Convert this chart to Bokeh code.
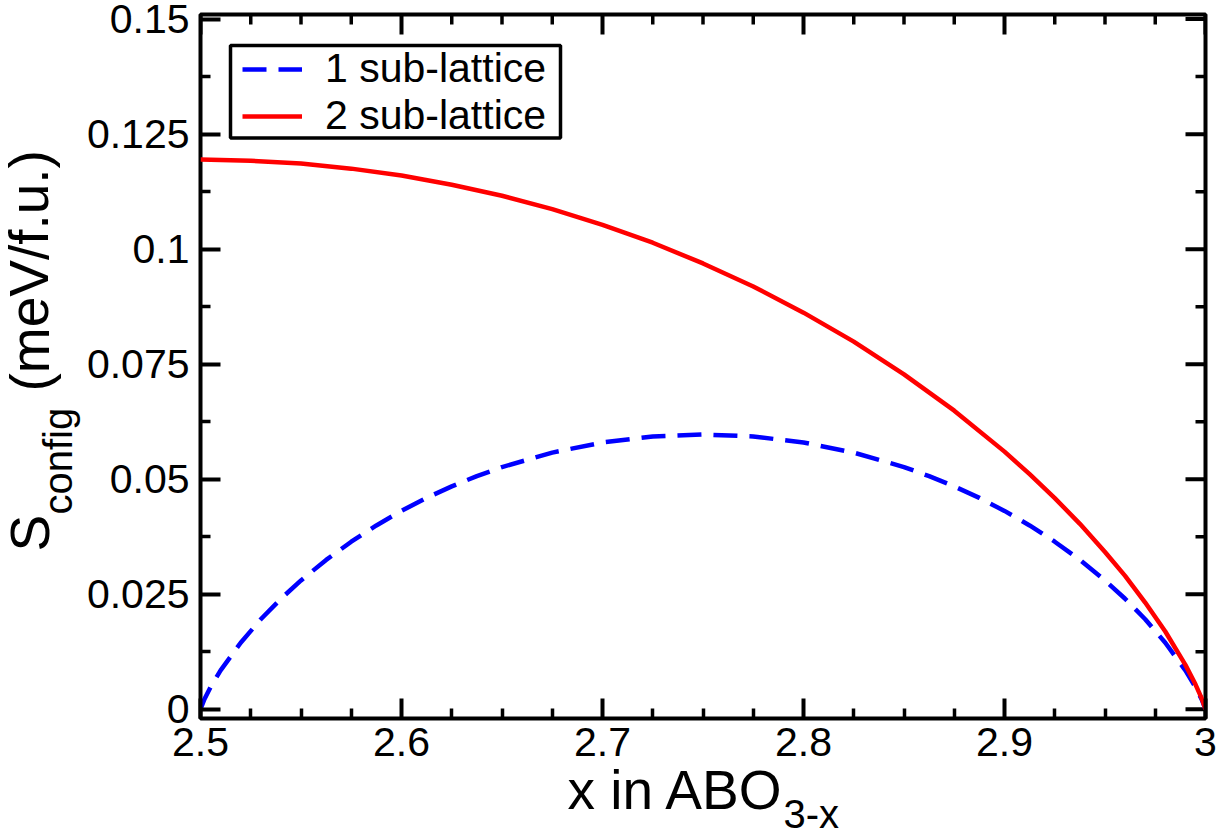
from bokeh.plotting import figure
from bokeh.models import (Range1d, FixedTicker, LinearAxis, Legend, LegendItem,
                          BoxAnnotation, ColumnDataSource)
from bokeh.core.properties import value
from bokeh.embed import file_html
from bokeh.resources import INLINE

# Configurational entropy read along the oxygen content axis
x_one = [2.5, 2.502, 2.505, 2.51, 2.52, 2.53, 2.54, 2.55, 2.5625, 2.575, 2.5875,
         2.6, 2.6125, 2.625, 2.6375, 2.65, 2.675, 2.7, 2.725, 2.75, 2.775, 2.8,
         2.825, 2.85, 2.8625, 2.875, 2.8875, 2.9, 2.9125, 2.925, 2.9375, 2.95,
         2.96, 2.97, 2.98, 2.99, 2.995, 2.998, 3.0]
s_one = [0.0, 0.00225, 0.00483, 0.00845, 0.01447, 0.01956, 0.02402, 0.02801,
         0.03247, 0.03642, 0.03996, 0.04312, 0.04595, 0.04845, 0.05068, 0.05264,
         0.05579, 0.05799, 0.05929, 0.05973, 0.05929, 0.05799, 0.05579, 0.05264,
         0.05068, 0.04845, 0.04595, 0.04312, 0.03996, 0.03642, 0.03247, 0.02801,
         0.02402, 0.01956, 0.01447, 0.00845, 0.00483, 0.00225, 0.0]

x_two = [2.5, 2.525, 2.55, 2.575, 2.6, 2.625, 2.65, 2.675, 2.7, 2.725, 2.75,
         2.775, 2.8, 2.825, 2.85, 2.875, 2.9, 2.9125, 2.925, 2.9375, 2.95, 2.96,
         2.97, 2.98, 2.99, 2.995, 2.998, 3.0]
s_two = [0.1195, 0.1192, 0.1186, 0.1175, 0.1160, 0.1140, 0.1116, 0.1087, 0.1053,
         0.1014, 0.0969, 0.0919, 0.0862, 0.0799, 0.0728, 0.0649, 0.0560, 0.0511,
         0.0459, 0.0403, 0.0342, 0.0290, 0.0232, 0.0169, 0.00965, 0.00543,
         0.00249, 0.0]

series_labels = ["1 sub-lattice", "2 sub-lattice"]

x_ticks = [2.5, 2.6, 2.7, 2.8, 2.9, 3.0]
x_tick_labels = ["2.5", "2.6", "2.7", "2.8", "2.9", "3"]
y_ticks = [0.0, 0.025, 0.05, 0.075, 0.1, 0.125, 0.15]
y_tick_labels = ["0", "0.025", "0.05", "0.075", "0.1", "0.125", "0.15"]

x_title = ["x in ABO", "3-x"]
y_title = ["S", "config", "(meV/f.u.)"]

X_LO, X_HI = 2.5, 3.0
Y_LO, Y_HI = -0.002, 0.151
FONT = "Liberation Sans"


def minor_between(ticks, n):
    out = []
    for a, b in zip(ticks[:-1], ticks[1:]):
        out += [a + (b - a) * k / n for k in range(1, n)]
    return out


p = figure(width=1219, height=837, output_backend="svg", toolbar_location=None,
           x_range=Range1d(X_LO, X_HI), y_range=Range1d(Y_LO, Y_HI),
           min_border_left=200, min_border_right=14, min_border_top=14,
           min_border_bottom=119, x_axis_location=None, y_axis_location=None)
p.background_fill_color = "white"
p.border_fill_color = "white"
p.outline_line_color = "black"
p.outline_line_width = 4
p.outline_line_alpha = 1.0
p.xgrid.visible = False
p.ygrid.visible = False

x_minor = minor_between(x_ticks, 4)
y_minor = minor_between(y_ticks, 2)


def styled_axis(ticks, minor, labels, standoff):
    ax = LinearAxis(ticker=FixedTicker(ticks=ticks, minor_ticks=minor))
    ax.axis_line_color = None
    ax.major_tick_in = 20
    ax.major_tick_out = 0
    ax.minor_tick_in = 10
    ax.minor_tick_out = 0
    ax.major_tick_line_width = 4
    ax.minor_tick_line_width = 3.5
    ax.major_tick_line_color = "black"
    ax.minor_tick_line_color = "black"
    ax.major_label_overrides = dict(zip(ticks, labels))
    ax.major_label_standoff = standoff
    ax.major_label_text_font = FONT
    ax.major_label_text_font_size = "41px"
    ax.major_label_text_color = "black"
    return ax


p.add_layout(styled_axis(x_ticks, x_minor, x_tick_labels, 9), "below")
p.add_layout(styled_axis(y_ticks, y_minor, y_tick_labels, 11), "left")

# mirrored ticks on the top and right edges of the frame
tick_style = dict(line_color="black", length_units="screen")
p.ray(x=x_ticks, y=[Y_HI] * len(x_ticks), length=20, angle=-90,
      angle_units="deg", line_width=4, **tick_style)
p.ray(x=x_minor, y=[Y_HI] * len(x_minor), length=10, angle=-90,
      angle_units="deg", line_width=3.5, **tick_style)
p.ray(x=[X_HI] * len(y_ticks), y=y_ticks, length=20, angle=180,
      angle_units="deg", line_width=4, **tick_style)
p.ray(x=[X_HI] * len(y_minor), y=y_minor, length=10, angle=180,
      angle_units="deg", line_width=3.5, **tick_style)

r1 = p.line(x_one, s_one, line_color="#0000ff", line_width=4.5, line_dash="24 12")
r2 = p.line(x_two, s_two, line_color="#ff0000", line_width=4.5)

# legend frame
p.add_layout(BoxAnnotation(left=30, right=360, top=673, bottom=580.5,
                           left_units="screen", right_units="screen",
                           top_units="screen", bottom_units="screen",
                           fill_color="white", fill_alpha=1.0,
                           line_color="black", line_width=3.5, line_alpha=1.0,
                           level="annotation"))

legend = Legend(items=[LegendItem(label=series_labels[0], renderers=[r1]),
                       LegendItem(label=series_labels[1], renderers=[r2])],
                location=(42, 579), padding=0, spacing=0, margin=0,
                glyph_width=60, glyph_height=20, label_standoff=23,
                label_text_font=FONT, label_text_font_size="41px",
                label_text_color="black",
                border_line_color=None, background_fill_alpha=0.0)
p.add_layout(legend)

# axis titles with subscripts, offset in pixels from the frame's lower-left corner
title_src = ColumnDataSource(dict(
    x=[X_LO] * 5,
    y=[Y_LO] * 5,
    text=x_title + y_title,
    size=["55px", "40px", "55px", "40px", "55px"],
    angle=[0, 0, 90, 90, 90],
    dx=[367, 583, -171, -143, -171],
    dy=[71, 95, -167, -204, -327],
))
p.text(x="x", y="y", text="text", source=title_src, angle="angle",
       angle_units="deg", x_offset="dx", y_offset="dy",
       text_font=value(FONT), text_font_size="size", text_color="black",
       text_align="left", text_baseline="alphabetic", level="overlay")

open("out.html", "w").write(file_html(p, INLINE))
